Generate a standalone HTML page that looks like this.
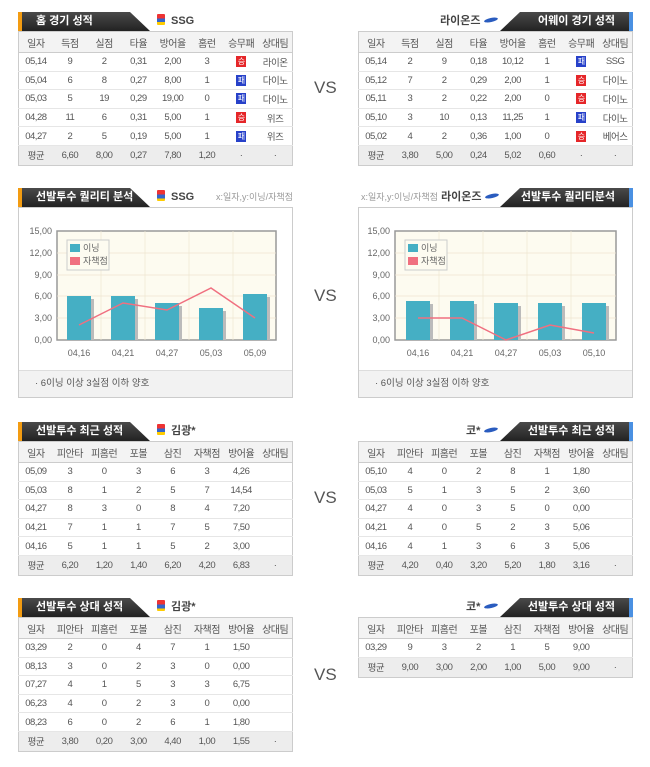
<!DOCTYPE html>
<html><head><meta charset="utf-8">
<style>
*{margin:0;padding:0;box-sizing:border-box}
body{width:650px;height:767px;background:#fff;position:relative;overflow:hidden;font-family:"Liberation Sans","Noto Sans CJK KR",sans-serif;color:#555}
.hd{position:absolute;height:19px;background:linear-gradient(#4a4a4a,#222);color:#fff;font-weight:bold;font-size:11px;line-height:19px}
.hl{clip-path:polygon(0 0,112px 0,132px 19px,0 19px);border-left:4px solid #f39c12;padding-left:14px}
.hr{clip-path:polygon(20px 0,100% 0,100% 19px,0 19px);border-right:4px solid #4a90e2;text-align:right;padding-right:14px}
.tm{position:absolute;font-size:11px;font-weight:bold;color:#444;line-height:19px}
.logo{display:inline-block;width:8px;height:11px;background:linear-gradient(#e33 0,#e33 40%,#36c 40%,#36c 75%,#fc0 75%);border-radius:1px;vertical-align:-1px;margin-right:6px}
.oval{display:inline-block;width:14px;height:4px;background:#2a5cbf;border-radius:50%;transform:rotate(-12deg);vertical-align:2px;margin-left:4px}
table{position:absolute;width:275px;border-collapse:collapse;table-layout:fixed;font-size:9.5px;border:1px solid #ccc;color:#555}
td{text-align:center;border-bottom:1px solid #e6e6e6;height:18.6px;letter-spacing:-0.5px}
tr.h td{background:#f3f3f3;height:21px;border-bottom:1px solid #ccc;font-size:10px}
tr.a td{background:#ededed;height:20px;border-bottom:none}
.w,.l{display:inline-block;width:10px;height:11px;color:#fff;font-size:8px;line-height:11px}
.w{background:#e52629}.l{background:#2741c9}
.vs{position:absolute;font-size:17px;color:#555;left:314px}
.box{position:absolute;border:1px solid #ccc;width:275px;height:191px;background:#fff}
.ft{position:absolute;left:0;right:0;bottom:0;height:27px;background:#f2f2f2;border-top:1px solid #ddd;font-size:9.5px;line-height:26px;padding-left:16px}
.sm{position:absolute;font-size:9px;color:#999;line-height:19px}
</style></head><body>

<!-- Section 1 -->
<div class="hd hl" style="left:18px;top:12px;width:150px">홈 경기 성적</div>
<div class="tm" style="left:157px;top:12px"><span class="logo"></span>SSG</div>
<table style="left:18px;top:31px">
<tr class="h"><td>일자</td><td>득점</td><td>실점</td><td>타율</td><td>방어율</td><td>홈런</td><td>승무패</td><td>상대팀</td></tr>
<tr><td>05,14</td><td>9</td><td>2</td><td>0,31</td><td>2,00</td><td>3</td><td><span class="w">승</span></td><td>라이온</td></tr>
<tr><td>05,04</td><td>6</td><td>8</td><td>0,27</td><td>8,00</td><td>1</td><td><span class="l">패</span></td><td>다이노</td></tr>
<tr><td>05,03</td><td>5</td><td>19</td><td>0,29</td><td>19,00</td><td>0</td><td><span class="l">패</span></td><td>다이노</td></tr>
<tr><td>04,28</td><td>11</td><td>6</td><td>0,31</td><td>5,00</td><td>1</td><td><span class="w">승</span></td><td>위즈</td></tr>
<tr><td>04,27</td><td>2</td><td>5</td><td>0,19</td><td>5,00</td><td>1</td><td><span class="l">패</span></td><td>위즈</td></tr>
<tr class="a"><td>평균</td><td>6,60</td><td>8,00</td><td>0,27</td><td>7,80</td><td>1,20</td><td>·</td><td>·</td></tr>
</table>
<div class="vs" style="top:78px">VS</div>
<div class="hd hr" style="left:500px;top:12px;width:133px">어웨이 경기 성적</div>
<div class="tm" style="left:440px;top:12px">라이온즈<span class="oval"></span></div>
<table style="left:358px;top:31px">
<tr class="h"><td>일자</td><td>득점</td><td>실점</td><td>타율</td><td>방어율</td><td>홈런</td><td>승무패</td><td>상대팀</td></tr>
<tr><td>05,14</td><td>2</td><td>9</td><td>0,18</td><td>10,12</td><td>1</td><td><span class="l">패</span></td><td>SSG</td></tr>
<tr><td>05,12</td><td>7</td><td>2</td><td>0,29</td><td>2,00</td><td>1</td><td><span class="w">승</span></td><td>다이노</td></tr>
<tr><td>05,11</td><td>3</td><td>2</td><td>0,22</td><td>2,00</td><td>0</td><td><span class="w">승</span></td><td>다이노</td></tr>
<tr><td>05,10</td><td>3</td><td>10</td><td>0,13</td><td>11,25</td><td>1</td><td><span class="l">패</span></td><td>다이노</td></tr>
<tr><td>05,02</td><td>4</td><td>2</td><td>0,36</td><td>1,00</td><td>0</td><td><span class="w">승</span></td><td>베어스</td></tr>
<tr class="a"><td>평균</td><td>3,80</td><td>5,00</td><td>0,24</td><td>5,02</td><td>0,60</td><td>·</td><td>·</td></tr>
</table>

<!-- Section 2 charts -->
<div class="hd hl" style="left:18px;top:188px;width:150px">선발투수 퀄리티 분석</div>
<div class="tm" style="left:157px;top:188px"><span class="logo"></span>SSG</div>
<div class="sm" style="left:216px;top:188px">x:일자,y:이닝/자책점</div>
<div class="box" style="left:18px;top:207px">
<svg width="275" height="165" style="position:absolute;left:0;top:0" font-family="Liberation Sans" font-size="9" fill="#666">
<rect x="38" y="23" width="219" height="109" fill="#fdfbf0" stroke="#999" stroke-width="1.5"/>
<g stroke="#eee5d0" stroke-width="0.7"><line x1="38" y1="45" x2="257" y2="45"/><line x1="38" y1="67" x2="257" y2="67"/><line x1="38" y1="88" x2="257" y2="88"/><line x1="38" y1="110" x2="257" y2="110"/><line x1="82" y1="23" x2="82" y2="132"/><line x1="126" y1="23" x2="126" y2="132"/><line x1="170" y1="23" x2="170" y2="132"/><line x1="214" y1="23" x2="214" y2="132"/></g>
<g text-anchor="end"><text x="33" y="26">15,00</text><text x="33" y="48">12,00</text><text x="33" y="70">9,00</text><text x="33" y="91">6,00</text><text x="33" y="113">3,00</text><text x="33" y="135">0,00</text></g>
<g fill="#bbb"><rect x="51" y="91" width="24" height="41"/><rect x="95" y="91" width="24" height="41"/><rect x="139" y="98" width="24" height="34"/><rect x="183" y="103" width="24" height="29"/><rect x="227" y="89" width="24" height="43"/></g>
<g fill="#45afc4"><rect x="48" y="88" width="24" height="44"/><rect x="92" y="88" width="24" height="44"/><rect x="136" y="95" width="24" height="37"/><rect x="180" y="100" width="24" height="32"/><rect x="224" y="86" width="24" height="46"/></g>
<polyline points="60,117 104,95 148,102 192,80 236,110" fill="none" stroke="#f07080" stroke-width="1.5"/>
<rect x="48" y="32" width="42" height="30" fill="#fdfbf0" stroke="#ccc"/>
<rect x="51" y="36" width="10" height="8" fill="#45afc4"/><text x="64" y="43">이닝</text>
<rect x="51" y="49" width="10" height="8" fill="#f07080"/><text x="64" y="56">자책점</text>
<g text-anchor="middle"><text x="60" y="148">04,16</text><text x="104" y="148">04,21</text><text x="148" y="148">04,27</text><text x="192" y="148">05,03</text><text x="236" y="148">05,09</text></g>
</svg>
<div class="ft">· 6이닝 이상 3실점 이하 양호</div>
</div>
<div class="vs" style="top:286px">VS</div>
<div class="hd hr" style="left:500px;top:188px;width:133px">선발투수 퀄리티분석</div>
<div class="tm" style="left:441px;top:188px">라이온즈<span class="oval"></span></div>
<div class="sm" style="left:361px;top:188px">x:일자,y:이닝/자책점</div>
<div class="box" style="left:358px;top:207px">
<svg width="275" height="165" style="position:absolute;left:0;top:0" font-family="Liberation Sans" font-size="9" fill="#666">
<rect x="36" y="23" width="221" height="109" fill="#fdfbf0" stroke="#999" stroke-width="1.5"/>
<g stroke="#eee5d0" stroke-width="0.7"><line x1="36" y1="45" x2="257" y2="45"/><line x1="36" y1="67" x2="257" y2="67"/><line x1="36" y1="88" x2="257" y2="88"/><line x1="36" y1="110" x2="257" y2="110"/><line x1="80" y1="23" x2="80" y2="132"/><line x1="124" y1="23" x2="124" y2="132"/><line x1="168" y1="23" x2="168" y2="132"/><line x1="212" y1="23" x2="212" y2="132"/></g>
<g text-anchor="end"><text x="31" y="26">15,00</text><text x="31" y="48">12,00</text><text x="31" y="70">9,00</text><text x="31" y="91">6,00</text><text x="31" y="113">3,00</text><text x="31" y="135">0,00</text></g>
<g fill="#bbb"><rect x="50" y="96" width="24" height="36"/><rect x="94" y="96" width="24" height="36"/><rect x="138" y="98" width="24" height="34"/><rect x="182" y="98" width="24" height="34"/><rect x="226" y="98" width="24" height="34"/></g>
<g fill="#45afc4"><rect x="47" y="93" width="24" height="39"/><rect x="91" y="93" width="24" height="39"/><rect x="135" y="95" width="24" height="37"/><rect x="179" y="95" width="24" height="37"/><rect x="223" y="95" width="24" height="37"/></g>
<polyline points="59,110 103,110 147,132 191,117 235,125" fill="none" stroke="#f07080" stroke-width="1.5"/>
<rect x="46" y="32" width="42" height="30" fill="#fdfbf0" stroke="#ccc"/>
<rect x="49" y="36" width="10" height="8" fill="#45afc4"/><text x="62" y="43">이닝</text>
<rect x="49" y="49" width="10" height="8" fill="#f07080"/><text x="62" y="56">자책점</text>
<g text-anchor="middle"><text x="59" y="148">04,16</text><text x="103" y="148">04,21</text><text x="147" y="148">04,27</text><text x="191" y="148">05,03</text><text x="235" y="148">05,10</text></g>
</svg>
<div class="ft">· 6이닝 이상 3실점 이하 양호</div>
</div>

<!-- Section 3 -->
<div class="hd hl" style="left:18px;top:422px;width:150px">선발투수 최근 성적</div>
<div class="tm" style="left:157px;top:422px"><span class="logo"></span>김광*</div>
<table style="left:18px;top:441px">
<tr class="h"><td>일자</td><td>피안타</td><td>피홈런</td><td>포볼</td><td>삼진</td><td>자책점</td><td>방어율</td><td>상대팀</td></tr>
<tr><td>05,09</td><td>3</td><td>0</td><td>3</td><td>6</td><td>3</td><td>4,26</td><td></td></tr>
<tr><td>05,03</td><td>8</td><td>1</td><td>2</td><td>5</td><td>7</td><td>14,54</td><td></td></tr>
<tr><td>04,27</td><td>8</td><td>3</td><td>0</td><td>8</td><td>4</td><td>7,20</td><td></td></tr>
<tr><td>04,21</td><td>7</td><td>1</td><td>1</td><td>7</td><td>5</td><td>7,50</td><td></td></tr>
<tr><td>04,16</td><td>5</td><td>1</td><td>1</td><td>5</td><td>2</td><td>3,00</td><td></td></tr>
<tr class="a"><td>평균</td><td>6,20</td><td>1,20</td><td>1,40</td><td>6,20</td><td>4,20</td><td>6,83</td><td>·</td></tr>
</table>
<div class="vs" style="top:488px">VS</div>
<div class="hd hr" style="left:500px;top:422px;width:133px">선발투수 최근 성적</div>
<div class="tm" style="left:466px;top:422px">코*<span class="oval"></span></div>
<table style="left:358px;top:441px">
<tr class="h"><td>일자</td><td>피안타</td><td>피홈런</td><td>포볼</td><td>삼진</td><td>자책점</td><td>방어율</td><td>상대팀</td></tr>
<tr><td>05,10</td><td>4</td><td>0</td><td>2</td><td>8</td><td>1</td><td>1,80</td><td></td></tr>
<tr><td>05,03</td><td>5</td><td>1</td><td>3</td><td>5</td><td>2</td><td>3,60</td><td></td></tr>
<tr><td>04,27</td><td>4</td><td>0</td><td>3</td><td>5</td><td>0</td><td>0,00</td><td></td></tr>
<tr><td>04,21</td><td>4</td><td>0</td><td>5</td><td>2</td><td>3</td><td>5,06</td><td></td></tr>
<tr><td>04,16</td><td>4</td><td>1</td><td>3</td><td>6</td><td>3</td><td>5,06</td><td></td></tr>
<tr class="a"><td>평균</td><td>4,20</td><td>0,40</td><td>3,20</td><td>5,20</td><td>1,80</td><td>3,16</td><td>·</td></tr>
</table>

<!-- Section 4 -->
<div class="hd hl" style="left:18px;top:598px;width:150px">선발투수 상대 성적</div>
<div class="tm" style="left:157px;top:598px"><span class="logo"></span>김광*</div>
<table style="left:18px;top:617px">
<tr class="h"><td>일자</td><td>피안타</td><td>피홈런</td><td>포볼</td><td>삼진</td><td>자책점</td><td>방어율</td><td>상대팀</td></tr>
<tr><td>03,29</td><td>2</td><td>0</td><td>4</td><td>7</td><td>1</td><td>1,50</td><td></td></tr>
<tr><td>08,13</td><td>3</td><td>0</td><td>2</td><td>3</td><td>0</td><td>0,00</td><td></td></tr>
<tr><td>07,27</td><td>4</td><td>1</td><td>5</td><td>3</td><td>3</td><td>6,75</td><td></td></tr>
<tr><td>06,23</td><td>4</td><td>0</td><td>2</td><td>3</td><td>0</td><td>0,00</td><td></td></tr>
<tr><td>08,23</td><td>6</td><td>0</td><td>2</td><td>6</td><td>1</td><td>1,80</td><td></td></tr>
<tr class="a"><td>평균</td><td>3,80</td><td>0,20</td><td>3,00</td><td>4,40</td><td>1,00</td><td>1,55</td><td>·</td></tr>
</table>
<div class="vs" style="top:665px">VS</div>
<div class="hd hr" style="left:500px;top:598px;width:133px">선발투수 상대 성적</div>
<div class="tm" style="left:466px;top:598px">코*<span class="oval"></span></div>
<table style="left:358px;top:617px">
<tr class="h"><td>일자</td><td>피안타</td><td>피홈런</td><td>포볼</td><td>삼진</td><td>자책점</td><td>방어율</td><td>상대팀</td></tr>
<tr><td>03,29</td><td>9</td><td>3</td><td>2</td><td>1</td><td>5</td><td>9,00</td><td></td></tr>
<tr class="a"><td>평균</td><td>9,00</td><td>3,00</td><td>2,00</td><td>1,00</td><td>5,00</td><td>9,00</td><td>·</td></tr>
</table>
</body></html>
